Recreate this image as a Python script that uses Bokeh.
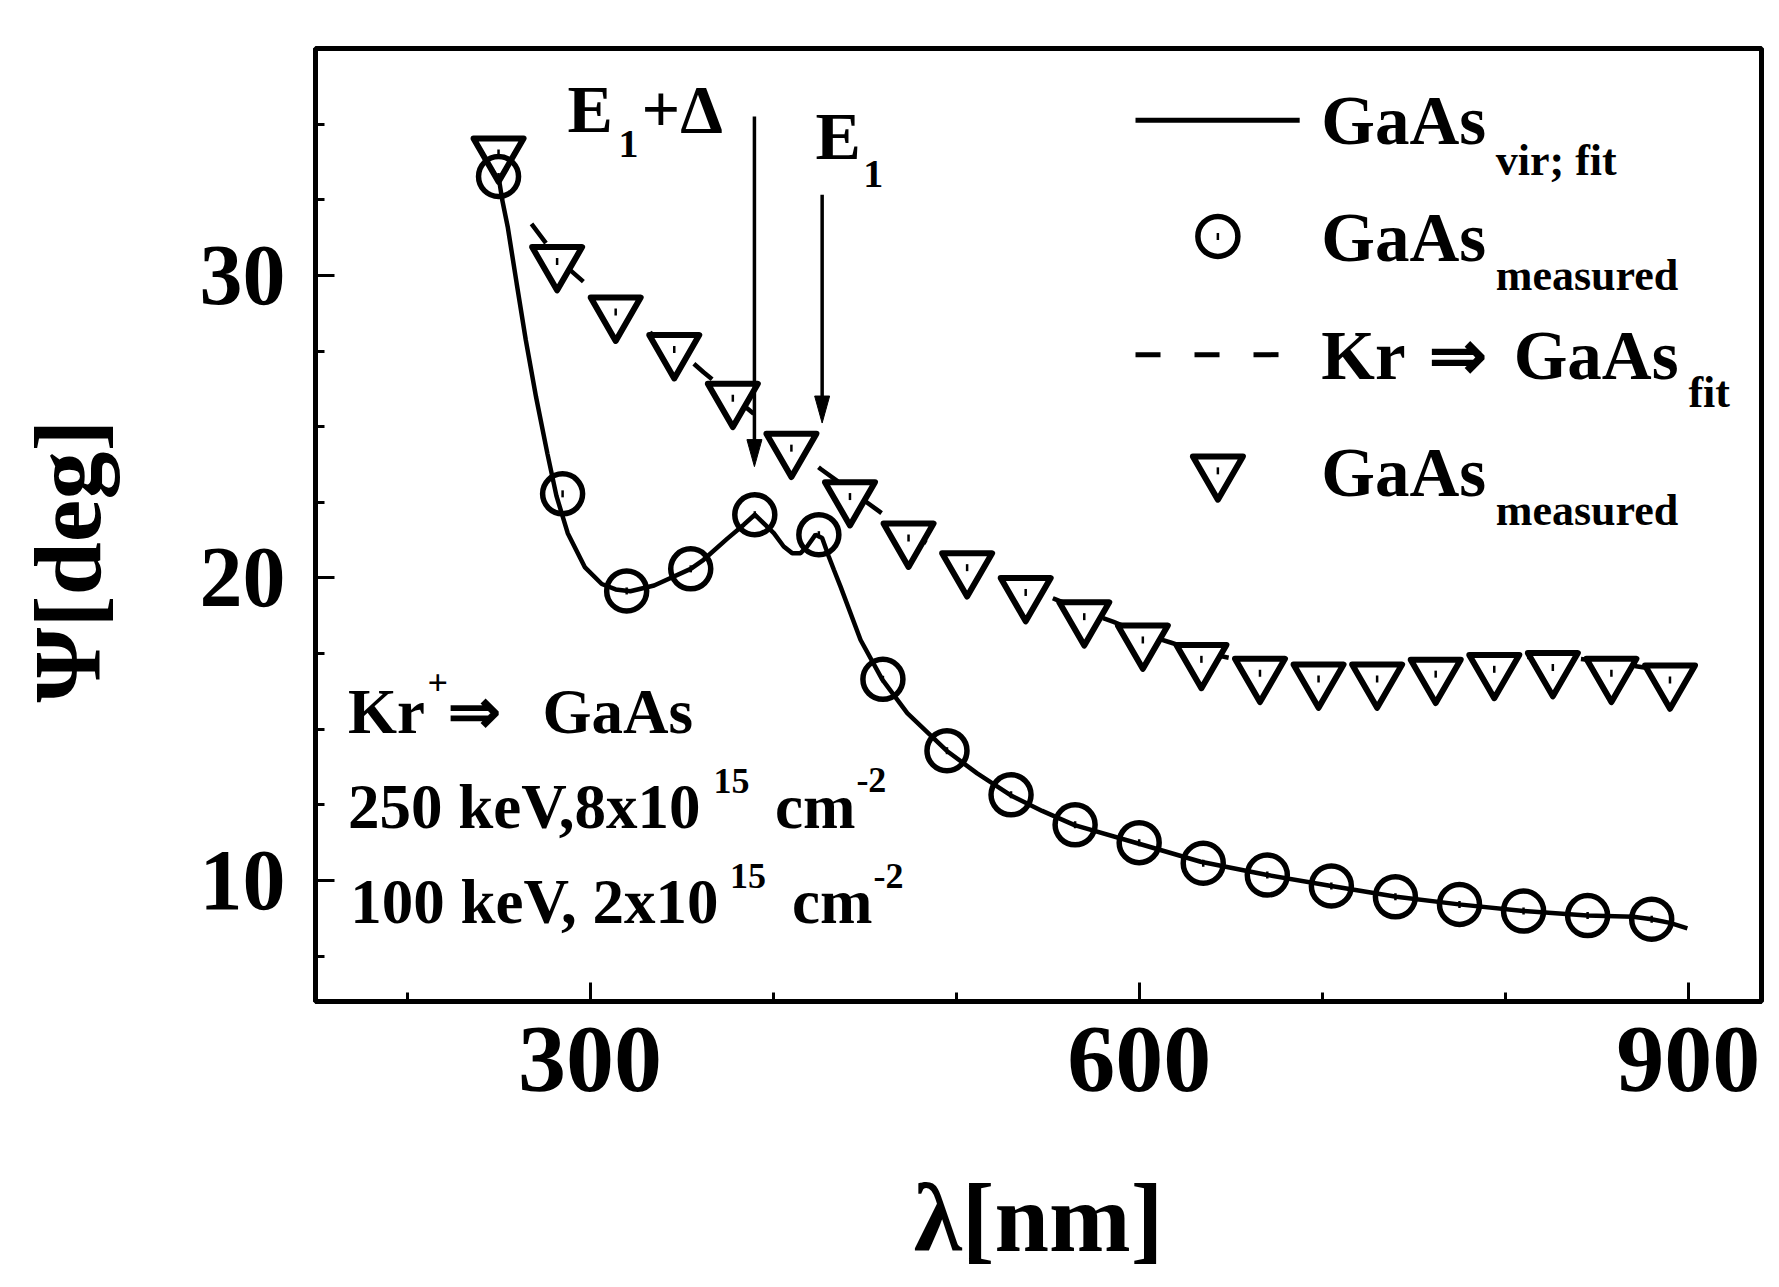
import numpy as np
from bokeh.plotting import figure
from bokeh.models import Range1d, FixedTicker, Label
from bokeh.embed import file_html
from bokeh.resources import INLINE

# ---------------- data ----------------
circ_wl = [250, 285, 320, 355, 390, 425, 460, 495, 530, 565, 600, 635, 670,
           705, 740, 775, 810, 845, 880]
circ_psi = [33.27, 22.78, 19.57, 20.3, 22.09, 21.43, 16.65, 14.29, 12.83, 11.84,
            11.25, 10.57, 10.18, 9.82, 9.46, 9.21, 8.99, 8.84, 8.72]

tri_wl = [250, 282, 314, 346, 378, 410, 442, 474, 506, 538, 570, 602, 634, 666,
          698, 730, 762, 794, 826, 858, 890]
tri_psi = [34.05, 30.46, 28.79, 27.55, 25.94, 24.29, 22.69, 21.32, 20.34, 19.52,
           18.72, 17.95, 17.31, 16.85, 16.66, 16.66, 16.82, 16.98, 17.04, 16.85, 16.63]

vir_fit_wl = [250, 252, 255, 259.9, 264.9, 270.5, 276.7, 281.6, 287.8, 297.1, 306.4,
              314, 322, 335, 355, 362, 375, 384, 390, 400.4, 405.8, 410.4, 415,
              418.6, 423.2, 426.8, 430.4, 433.2, 436.8, 447.8, 459.6, 473.3, 494.8,
              511.5, 529.7, 547, 564.7, 599, 633.6, 670, 705, 740.5, 774.7, 809.9,
              844.8, 870, 880, 890, 899.5]
vir_fit_psi = [33.27, 32.5, 31.61, 29.74, 27.86, 25.98, 24.11, 22.72, 21.48, 20.36,
               19.8, 19.62, 19.56, 19.75, 20.3, 20.6, 21.3, 21.76, 22.09, 21.48, 21.04,
               20.82, 20.82, 21.04, 21.43, 21.32, 20.71, 20.27, 19.72, 17.95, 16.65,
               15.53, 14.29, 13.54, 12.82, 12.3, 11.83, 11.23, 10.62, 10.18, 9.82,
               9.46, 9.21, 8.99, 8.84, 8.8, 8.72, 8.6, 8.42]

kr_fit_wl = [268, 283, 300, 315, 330, 347, 362, 378, 394, 410, 426, 442, 458, 474,
             490, 506, 522, 538, 554, 570, 586, 602, 618, 634, 650, 666, 685, 700,
             730, 750, 784, 815, 830, 858, 875, 892]
kr_fit_psi = [31.7, 30.5, 29.6, 28.85, 28.2, 27.6, 26.8, 26.0, 25.2, 24.4, 23.6, 22.9,
              22.2, 21.5, 20.95, 20.5, 20.1, 19.7, 19.3, 18.9, 18.55, 18.15, 17.85,
              17.55, 17.35, 17.15, 17.0, 16.95, 16.95, 17.05, 17.25, 17.4, 17.4, 17.2,
              17.05, 16.9]

x_major = [300, 600, 900]
x_minor = [200, 400, 500, 700, 800]
y_major = [10, 20, 30]
y_minor = [7.5, 12.5, 15, 17.5, 22.5, 25, 27.5, 32.5, 35]

# arrows marking the transitions: x, top, tip
arrow_x = [389.8, 426.8]
arrow_top = [35.25, 32.67]
arrow_tip = [23.68, 25.12]

FONT = "Liberation Serif"
X0, X1, Y0, Y1 = 150, 940, 6, 37.5
FRAME_W, FRAME_H = 1446, 953

p = figure(width=1779, height=1287, output_backend="svg", toolbar_location=None,
           x_range=Range1d(X0, X1), y_range=Range1d(Y0, Y1),
           min_border_left=315, min_border_right=18, min_border_top=48,
           min_border_bottom=286)
p.background_fill_color = "white"
p.border_fill_color = "white"
p.xgrid.visible = False
p.ygrid.visible = False
p.outline_line_color = "black"
p.outline_line_width = 5

for ax in (p.xaxis[0], p.yaxis[0]):
    ax.axis_line_width = 5
    ax.axis_line_color = "black"
    ax.major_tick_in = 19
    ax.major_tick_out = 0
    ax.minor_tick_in = 9
    ax.minor_tick_out = 0
    ax.major_tick_line_width = 3
    ax.minor_tick_line_width = 3
    ax.major_tick_line_color = "black"
    ax.minor_tick_line_color = "black"
    ax.major_label_text_font = FONT
    ax.major_label_text_font_style = "bold"
    ax.major_label_text_color = "black"
    ax.axis_label_text_font = FONT
    ax.axis_label_text_font_style = "bold"
    ax.axis_label_text_color = "black"

p.xaxis.ticker = FixedTicker(ticks=x_major, minor_ticks=x_minor)
p.yaxis.ticker = FixedTicker(ticks=y_major, minor_ticks=y_minor)
p.xaxis.major_label_text_font_size = "96px"
p.yaxis.major_label_text_font_size = "86px"
p.xaxis.major_label_standoff = 26
p.yaxis.major_label_standoff = 30

p.xaxis.axis_label = "λ[nm]"
p.xaxis.axis_label_text_font_size = "98px"
p.xaxis.axis_label_standoff = 70

# the original label sits a little below the centre of the axis
p.yaxis.axis_label = "Ψ[deg]" + "\u00a0" * 3
p.yaxis.axis_label_text_font_size = "96px"
p.yaxis.axis_label_standoff = 76

# ---------------- series ----------------
p.line(kr_fit_wl, kr_fit_psi, line_color="black", line_width=4.5, line_dash="24 30")
p.scatter(tri_wl, tri_psi, marker="inverted_triangle", size=50, line_width=6,
          line_color="black", fill_color="white", line_join="round")
p.line(vir_fit_wl, vir_fit_psi, line_color="black", line_width=4.5)
p.scatter(circ_wl, circ_psi, marker="circle", size=40, line_width=5.5,
          line_color="black", fill_color=None)
p.scatter(tri_wl + circ_wl, tri_psi + circ_psi, marker="dash", angle=np.pi / 2,
          size=7, line_width=2.5, line_color="black")

# ---------------- arrows ----------------
px_x = FRAME_W / (X1 - X0)     # pixels per nm
px_y = FRAME_H / (Y1 - Y0)     # pixels per degree
head_len = 27 / px_y
head_half = 7.5 / px_x
p.segment(arrow_x, arrow_top, arrow_x, [t + head_len * 0.8 for t in arrow_tip],
          line_color="black", line_width=3.5)
p.patches([[x - head_half, x, x + head_half] for x in arrow_x],
          [[t + head_len, t, t + head_len] for t in arrow_tip],
          fill_color="black", line_color="black", line_width=1)


def txt(x, y, s, size):
    # y is the wanted baseline; Label puts the glyph baseline ~0.34 em lower
    p.add_layout(Label(x=x, y=y + 0.34 * size / px_y, text=s, text_font=FONT,
                       text_font_style="bold", text_font_size=f"{size}px",
                       text_align="left", text_baseline="alphabetic",
                       text_color="black"))


# transition labels
txt(287.7, 34.72, "E", 68)
txt(315.5, 33.89, "1", 40)
txt(328.1, 34.72, "+Δ", 68)
txt(423.1, 33.83, "E", 68)
txt(449.3, 32.9, "1", 40)

# implantation note
txt(167.8, 14.87, "Kr", 63)
txt(211.2, 16.11, "+", 36)
txt(222.6, 14.87, "⇒", 63)
txt(274.0, 14.87, "GaAs", 63)
txt(167.8, 11.73, "250 keV,8x10", 63)
txt(367.5, 12.87, "15", 36)
txt(401.0, 11.73, "cm", 63)
txt(445.5, 12.93, "-2", 36)
txt(169.0, 8.57, "100 keV, 2x10", 63)
txt(376.5, 9.73, "15", 36)
txt(410.3, 8.57, "cm", 63)
txt(454.8, 9.73, "-2", 36)

# ---------------- hand-made legend ----------------
leg_x0, leg_x1, leg_xc, leg_tx = 598, 687.7, 643, 699.5
leg_sym_y = [35.13, 31.29, 27.38, 23.54]
p.line([leg_x0, leg_x1], [leg_sym_y[0]] * 2, line_color="black", line_width=5)
p.scatter([leg_xc], [leg_sym_y[1]], marker="circle", size=40, line_width=5.5,
          line_color="black", fill_color=None)
p.line([leg_x0, 676.2], [leg_sym_y[2]] * 2, line_color="black", line_width=5,
       line_dash="25 34")
p.scatter([leg_xc], [leg_sym_y[3]], marker="inverted_triangle", size=50,
          line_width=6, line_color="black", fill_color="white", line_join="round")
p.scatter([leg_xc, leg_xc], [leg_sym_y[1], leg_sym_y[3]], marker="dash",
          angle=np.pi / 2, size=7, line_width=2.5, line_color="black")

txt(leg_tx, 34.32, "GaAs", 69)
txt(794.8, 33.30, "vir; fit", 44)
txt(leg_tx, 30.46, "GaAs", 69)
txt(794.8, 29.50, "measured", 44)
txt(leg_tx, 26.55, "Kr", 69)
txt(758.1, 26.55, "⇒", 69)
txt(804.6, 26.55, "GaAs", 69)
txt(900.1, 25.62, "fit", 44)
txt(leg_tx, 22.69, "GaAs", 69)
txt(794.8, 21.72, "measured", 44)

open("out.html", "w").write(file_html(p, INLINE))
